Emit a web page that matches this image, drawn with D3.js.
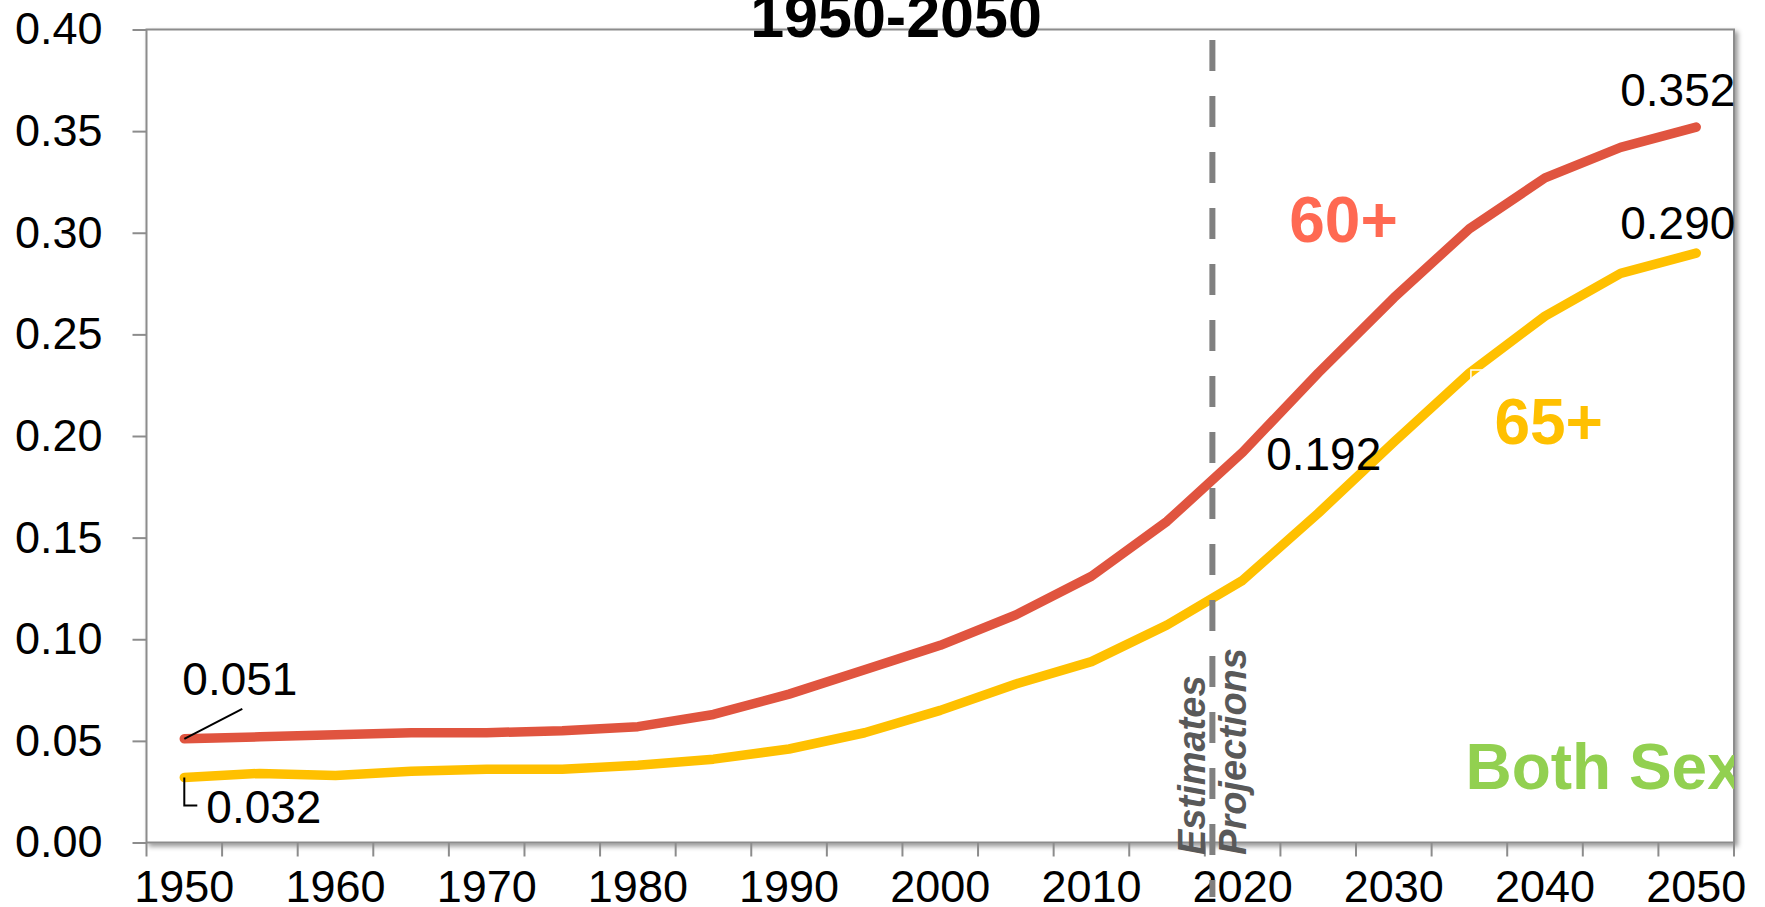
<!DOCTYPE html>
<html>
<head>
<meta charset="utf-8">
<script src="https://cdn.jsdelivr.net/npm/d3@7"></script>
<style>
  body { margin: 0; background: #fff; }
  text { font-family: 'Liberation Sans', Arial, sans-serif; }
</style>
</head>
<body>
<div id="target"></div>
<script>
const years = [1950, 1955, 1960, 1965, 1970, 1975, 1980, 1985, 1990, 1995, 2000,
  2005, 2010, 2015, 2020, 2025, 2030, 2035, 2040, 2045, 2050];
const aged60 = [0.051, 0.052, 0.053, 0.054, 0.054, 0.055, 0.057, 0.063, 0.073, 0.085, 0.097,
  0.112, 0.131, 0.158, 0.192, 0.231, 0.268, 0.302, 0.327, 0.342, 0.352];
const aged65 = [0.032, 0.034, 0.033, 0.035, 0.036, 0.036, 0.038, 0.041, 0.046, 0.054, 0.065,
  0.078, 0.089, 0.107, 0.129, 0.162, 0.197, 0.231, 0.259, 0.280, 0.290];
const yTicks = [0, 0.05, 0.1, 0.15, 0.2, 0.25, 0.3, 0.35, 0.4];
const xLabels = [1950, 1960, 1970, 1980, 1990, 2000, 2010, 2020, 2030, 2040, 2050];
const title = '1950-2050';
const dividerYear = 2018;

const width = 1765;
const height = 907;
const plot = { left: 146.5, right: 1734, top: 29.5, bottom: 842.5 };

const svg = d3.select('#target').append('svg').attr('width', width).attr('height', height);

const x = d3.scaleBand().domain(years).range([plot.left, plot.right]);
const y = d3.scaleLinear().domain([0, 0.4]).range([plot.bottom, plot.top]);

function cx(year) {
  return x(year) + x.bandwidth() / 2;
}

// position of an in-between year (the estimates / projections split)
function xYear(year) {
  const base = years.filter((d) => d <= year).pop();
  return cx(base) + ((year - base) / 5) * x.step();
}

const defs = svg.append('defs');
defs
  .append('filter')
  .attr('id', 'shadow')
  .attr('x', '-5%')
  .attr('y', '-5%')
  .attr('width', '110%')
  .attr('height', '110%')
  .append('feDropShadow')
  .attr('dx', 3)
  .attr('dy', 3)
  .attr('stdDeviation', 2.5)
  .attr('flood-color', '#000')
  .attr('flood-opacity', 0.4);

defs
  .append('clipPath')
  .attr('id', 'plot-clip')
  .append('rect')
  .attr('x', plot.left)
  .attr('y', plot.top)
  .attr('width', plot.right - plot.left)
  .attr('height', plot.bottom - plot.top);

// plot frame
svg
  .append('rect')
  .attr('x', plot.left)
  .attr('y', plot.top)
  .attr('width', plot.right - plot.left)
  .attr('height', plot.bottom - plot.top)
  .attr('fill', '#fff')
  .attr('stroke', '#8c8c8c')
  .attr('stroke-width', 2)
  .attr('filter', 'url(#shadow)');

// y axis
const yAxis = svg
  .append('g')
  .attr('transform', `translate(${plot.left},0)`)
  .call(d3.axisLeft(y).tickValues(yTicks).tickFormat(d3.format('.2f')).tickSize(14).tickPadding(30));
yAxis.select('.domain').remove();
yAxis.selectAll('line').attr('stroke', '#8c8c8c').attr('stroke-width', 2);
yAxis.selectAll('text').attr('font-size', 45).attr('fill', '#000').attr('font-family', null);

// x axis: labels on every other category, ticks on category edges
const xAxis = svg
  .append('g')
  .attr('transform', `translate(0,${plot.bottom})`)
  .call(d3.axisBottom(x).tickValues(xLabels).tickSize(0).tickPadding(27.5));
xAxis.select('.domain').remove();
xAxis.selectAll('text').attr('font-size', 45).attr('fill', '#000').attr('font-family', null);

const edges = years.map((d) => x(d)).concat([x.range()[1]]);
svg
  .selectAll('.xtick')
  .data(edges)
  .enter()
  .append('line')
  .attr('class', 'xtick')
  .attr('x1', function (d) {
    return d;
  })
  .attr('x2', function (d) {
    return d;
  })
  .attr('y1', plot.bottom)
  .attr('y2', plot.bottom + 14)
  .attr('stroke', '#8c8c8c')
  .attr('stroke-width', 2);

// title (cut by the top of the picture)
svg
  .append('text')
  .attr('x', 896)
  .attr('y', 37)
  .attr('text-anchor', 'middle')
  .attr('font-size', 61)
  .attr('font-weight', 'bold')
  .attr('fill', '#000')
  .text(title);

// lines
const line = d3
  .line()
  .x(function (d, i) {
    return cx(years[i]);
  })
  .y(function (d) {
    return y(d);
  });

const series = [
  { values: aged60, color: '#e0543f' },
  { values: aged65, color: '#ffc000' },
];

svg
  .selectAll('.series')
  .data(series)
  .enter()
  .append('path')
  .attr('class', 'series')
  .attr('d', function (d) {
    return line(d.values);
  })
  .attr('fill', 'none')
  .attr('stroke', function (d) {
    return d.color;
  })
  .attr('stroke-width', 9.5)
  .attr('stroke-linejoin', 'round')
  .attr('stroke-linecap', 'round');

// small white label handle left on the 65+ line
const iHandle = years.indexOf(2035);
svg
  .append('rect')
  .attr('x', cx(2035) + 1.5)
  .attr('y', y(aged65[iHandle]) - 3)
  .attr('width', 16)
  .attr('height', 10)
  .attr('fill', 'none')
  .attr('stroke', '#fff')
  .attr('stroke-width', 1.5);

// value labels
const first = years[0];
const last = years[years.length - 1];
const mid = 2020;
const valueLabels = [
  { year: first, value: aged60[0], dx: -2, dy: -44 },
  { year: first, value: aged65[0], dx: 22, dy: 45.5 },
  { year: mid, value: aged60[years.indexOf(mid)], dx: 23.5, dy: 18 },
  { year: last, value: aged60[aged60.length - 1], dx: -76, dy: -21 },
  { year: last, value: aged65[aged65.length - 1], dx: -76, dy: -14 },
];

svg
  .selectAll('.vlabel')
  .data(valueLabels)
  .enter()
  .append('text')
  .attr('class', 'vlabel')
  .attr('x', function (d) {
    return cx(d.year) + d.dx;
  })
  .attr('y', function (d) {
    return y(d.value) + d.dy;
  })
  .attr('font-size', 46)
  .attr('fill', '#000')
  .text(function (d) {
    return d3.format('.3f')(d.value);
  });

// leader lines for the 1950 labels
const x0 = cx(first);
svg
  .append('line')
  .attr('x1', x0)
  .attr('y1', y(aged60[0]))
  .attr('x2', x0 + 58)
  .attr('y2', y(aged60[0]) - 30)
  .attr('stroke', '#000')
  .attr('stroke-width', 2);
svg
  .append('path')
  .attr('d', `M${x0},${y(aged65[0])}V${y(aged65[0]) + 28}H${x0 + 13}`)
  .attr('fill', 'none')
  .attr('stroke', '#000')
  .attr('stroke-width', 2);

// series names
svg
  .append('text')
  .attr('x', cx(2025) - 29)
  .attr('y', y(0.2955))
  .attr('font-size', 64)
  .attr('font-weight', 'bold')
  .attr('fill', '#ff6952')
  .text('60+');
svg
  .append('text')
  .attr('x', cx(2035) + 25)
  .attr('y', y(0.196))
  .attr('font-size', 64)
  .attr('font-weight', 'bold')
  .attr('fill', '#ffc000')
  .text('65+');

svg
  .append('text')
  .attr('x', cx(2035) - 4)
  .attr('y', y(0.0263))
  .attr('font-size', 64)
  .attr('font-weight', 'bold')
  .attr('fill', '#92d050')
  .attr('clip-path', 'url(#plot-clip)')
  .text('Both Sex');

// estimates / projections split
const xd = xYear(dividerYear);
svg
  .append('line')
  .attr('x1', xd)
  .attr('x2', xd)
  .attr('y1', 40)
  .attr('y2', 897)
  .attr('stroke', '#808080')
  .attr('stroke-width', 6)
  .attr('stroke-dasharray', '31,25');

svg
  .append('text')
  .attr('transform', `translate(${xd - 7.5},855) rotate(-90)`)
  .attr('font-size', 38)
  .attr('font-weight', 'bold')
  .attr('font-style', 'italic')
  .attr('fill', '#595959')
  .text('Estimates');
svg
  .append('text')
  .attr('transform', `translate(${xd + 34},855) rotate(-90)`)
  .attr('font-size', 38)
  .attr('font-weight', 'bold')
  .attr('font-style', 'italic')
  .attr('fill', '#595959')
  .text('Projections');
</script>
</body>
</html>
